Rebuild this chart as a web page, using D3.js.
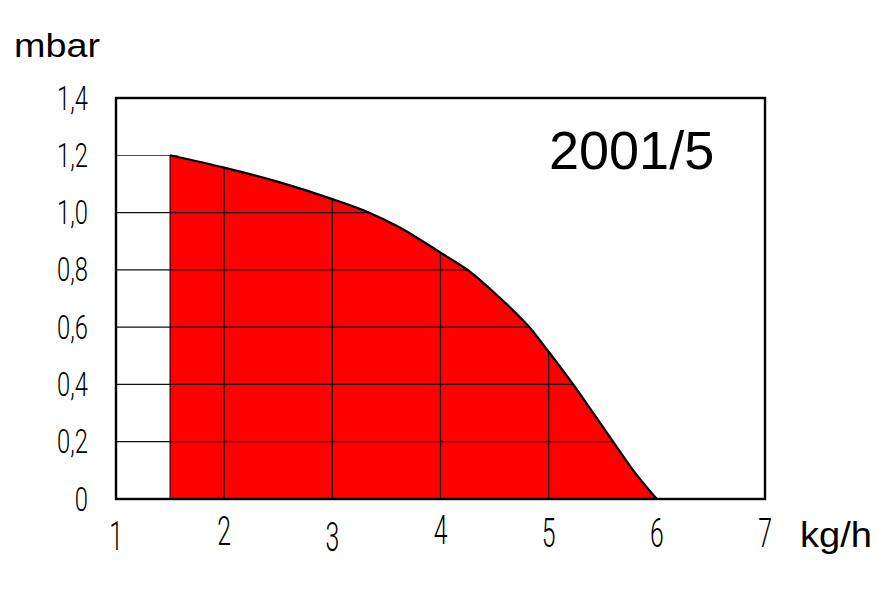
<!DOCTYPE html>
<html>
<head>
<meta charset="utf-8">
<script src="https://cdn.jsdelivr.net/npm/d3@7/dist/d3.min.js"></script>
<style>
  body { margin: 0; background: #fff; }
  svg { display: block; }
</style>
</head>
<body>
<svg></svg>
<script>
// flow (kg/h) vs pressure drop (mbar)
var flow     = [1.5, 2, 2.5, 3, 3.32, 3.62, 4, 4.26, 4.52, 4.83, 5, 5.23, 5.4, 5.6, 5.78, 6];
var pressure = [1.2, 1.157, 1.107, 1.047, 1.003, 0.949, 0.86, 0.797, 0.712, 0.596, 0.514, 0.398, 0.307, 0.198, 0.101, 0];

var xTicks = [1, 2, 3, 4, 5, 6, 7];
var yTicks = [0, 0.2, 0.4, 0.6, 0.8, 1.0, 1.2, 1.4];
var yLabels = ["0", "0,2", "0,4", "0,6", "0,8", "1,0", "1,2", "1,4"];
var model = "2001/5";

(function() {
  var width = 887;
  var height = 591;
  var plotLeft = 116, plotRight = 765, plotTop = 98, plotBottom = 499;

  var points = flow.map((f, i) => ({x: f, y: pressure[i]}));

  var xScale = d3.scaleLinear().domain([1, 7]).range([plotLeft, plotRight]);
  var yScale = d3.scaleLinear().domain([0, 1.4]).range([plotBottom, plotTop]);

  var svg = d3.select("svg")
      .attr("width", width)
      .attr("height", height);

  var area = d3.area()
      .x(d => xScale(d.x))
      .y0(yScale(0))
      .y1(d => yScale(d.y))
      .curve(d3.curveMonotoneX);

  var line = d3.line()
      .x(d => xScale(d.x))
      .y(d => yScale(d.y))
      .curve(d3.curveMonotoneX);

  // grid only shows under the curve (and left of it up to the first point)
  var clipPoints = [{x: 1, y: pressure[0]}].concat(points);
  svg.append("clipPath")
      .attr("id", "under")
    .append("path")
      .attr("d", area(clipPoints));

  svg.append("path")
      .attr("d", area(points))
      .attr("fill", "#ff0000");

  var grid = svg.append("g").attr("clip-path", "url(#under)");

  grid.selectAll(".hgrid")
      .data(yTicks.filter(t => t > 0 && t < 1.4))
      .enter()
      .append("line")
        .attr("x1", xScale(1))
        .attr("x2", xScale(7))
        .attr("y1", d => yScale(d))
        .attr("y2", d => yScale(d))
        .attr("stroke", "#111")
        .attr("stroke-width", 1.2);

  grid.selectAll(".vgrid")
      .data(xTicks.filter(t => t > 1 && t < 7))
      .enter()
      .append("line")
        .attr("x1", d => xScale(d))
        .attr("x2", d => xScale(d))
        .attr("y1", yScale(0))
        .attr("y2", yScale(1.4))
        .attr("stroke", "#111")
        .attr("stroke-width", 1.2);

  svg.append("line")
      .attr("x1", xScale(flow[0]))
      .attr("x2", xScale(flow[0]))
      .attr("y1", yScale(0))
      .attr("y2", yScale(pressure[0]))
      .attr("stroke", "#111")
      .attr("stroke-width", 1.2);

  svg.append("path")
      .attr("d", line(points))
      .attr("fill", "none")
      .attr("stroke", "#000")
      .attr("stroke-width", 2.2);

  // frame
  svg.append("rect")
      .attr("x", xScale(1))
      .attr("y", yScale(1.4))
      .attr("width", xScale(7) - xScale(1))
      .attr("height", yScale(0) - yScale(1.4))
      .attr("fill", "none")
      .attr("stroke", "#000")
      .attr("stroke-width", 2.4);

  // tick labels, narrow thin CAD-like lettering
  var nudge = [3, -2, 4, -3, 0, 0, 0];

  svg.selectAll(".xlab")
      .data(xTicks)
      .enter()
      .append("text")
        .text(d => d)
        .attr("transform", (d, i) => "translate(" + xScale(d) + "," + (547 + nudge[i]) + ") scale(0.62,1)")
        .attr("text-anchor", "middle")
        .style("font-family", "Roboto, sans-serif")
        .style("font-weight", 300)
        .style("font-size", "40px");

  svg.selectAll(".ylab")
      .data(yTicks)
      .enter()
      .append("text")
        .text((d, i) => yLabels[i])
        .attr("transform", d => "translate(88," + (yScale(d) + 11.5) + ") scale(0.72,1)")
        .attr("text-anchor", "end")
        .style("font-family", "Roboto, sans-serif")
        .style("font-weight", 300)
        .style("font-size", "33px");

  svg.append("text")
      .text("mbar")
      .attr("x", 14)
      .attr("y", 57)
      .attr("textLength", 86)
      .attr("lengthAdjust", "spacingAndGlyphs")
      .style("font-family", "'Liberation Sans', Arial, sans-serif")
      .style("font-size", "34px");

  svg.append("text")
      .text("kg/h")
      .attr("x", 800)
      .attr("y", 547)
      .attr("textLength", 72)
      .attr("lengthAdjust", "spacingAndGlyphs")
      .style("font-family", "'Liberation Sans', Arial, sans-serif")
      .style("font-size", "35px");

  svg.append("text")
      .text(model)
      .attr("x", 549)
      .attr("y", 169)
      .style("font-family", "'Liberation Sans', Arial, sans-serif")
      .style("font-size", "54px");
})();
</script>
</body>
</html>
